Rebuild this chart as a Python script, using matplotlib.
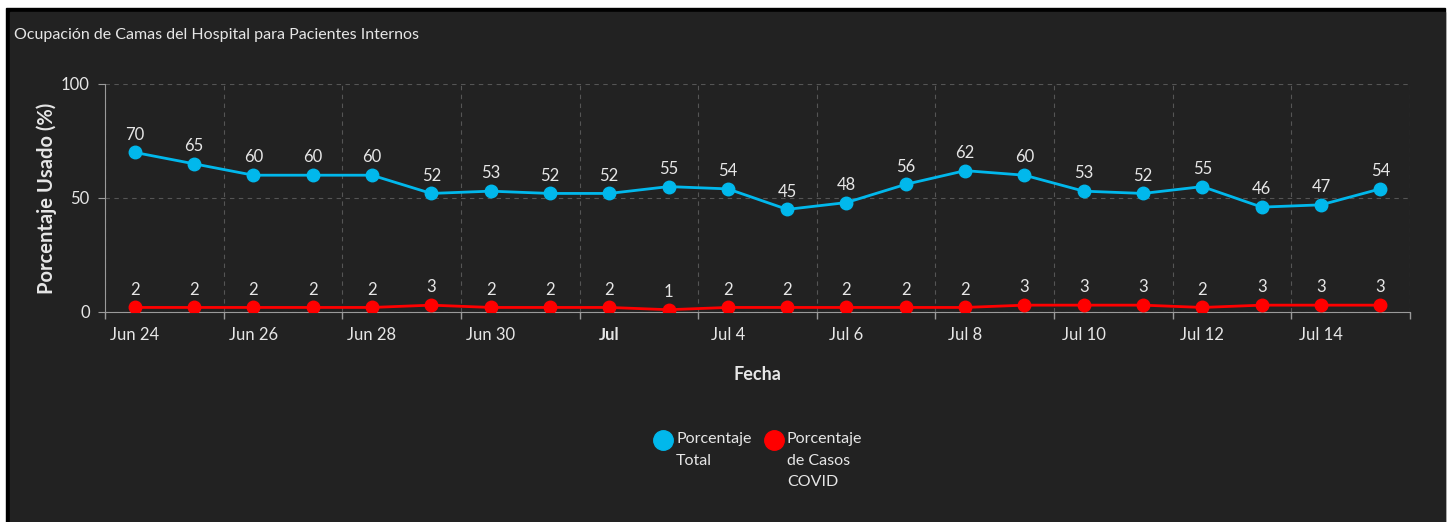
import datetime as dt
import matplotlib.pyplot as plt
import matplotlib.dates as mdates
from matplotlib.patches import Rectangle

plt.rcParams['font.family'] = ['Lato', 'DejaVu Sans']

start = dt.datetime(2020, 6, 24)
fechas = [start + dt.timedelta(days=i) for i in range(22)]
total = [70, 65, 60, 60, 60, 52, 53, 52, 52, 55, 54, 45, 48, 56, 62, 60,
         53, 52, 55, 46, 47, 54]
covid = [2, 2, 2, 2, 2, 3, 2, 2, 2, 1, 2, 2, 2, 2, 2, 3, 3, 3, 2, 3, 3, 3]
tick_labels = ["Jun 24", "Jun 26", "Jun 28", "Jun 30", "Jul", "Jul 4",
               "Jul 6", "Jul 8", "Jul 10", "Jul 12", "Jul 14"]
series_names = ["Porcentaje\nTotal", "Porcentaje\nde Casos\nCOVID"]

bg = '#222222'
txt = '#e6e6e6'
blue = '#01b8ec'
red = '#ff0000'

fig = plt.figure(figsize=(14.52, 5.22), dpi=100, facecolor='white')
W, H = 1452, 522
fig.patches.append(Rectangle((6 / W, 0), (1445 - 6) / W, (H - 8) / H,
                             transform=fig.transFigure, color='black',
                             zorder=-2))
fig.patches.append(Rectangle((10 / W, 0), (1445 - 10) / W, (H - 12) / H,
                             transform=fig.transFigure, color=bg, zorder=-1))

ax = fig.add_axes([105 / W, 1 - 312 / H, (1410 - 105) / W, (312 - 84) / H])
ax.set_zorder(2)
ax.patch.set_alpha(0)

ax.plot(fechas, total, color=blue, lw=2, marker='o', ms=9, zorder=3)
ax.plot(fechas, covid, color=red, lw=2, marker='o', ms=9, zorder=3)
for d, v in zip(fechas, total):
    ax.annotate(str(v), (d, v), xytext=(0, 7), textcoords='offset points',
                ha='center', va='bottom', color=txt, fontsize=12)
for d, v in zip(fechas, covid):
    ax.annotate(str(v), (d, v), xytext=(0, 7), textcoords='offset points',
                ha='center', va='bottom', color=txt, fontsize=12)

x0 = start - dt.timedelta(hours=12)
x1 = fechas[-1] + dt.timedelta(hours=12)
ax.set_xlim(x0, x1)
ax.set_ylim(0, 100)

# gridlines / ticks at half-day offsets, labels under the points
grid_pos = [x0 + dt.timedelta(days=2 * k) for k in range(12)]
ax.set_xticks(grid_pos)
ax.set_xticklabels([])
ax.tick_params(axis='x', length=5, color='#9a9a9a', width=1)
label_pos = [start + dt.timedelta(days=2 * k) for k in range(11)]
for p, lab in zip(label_pos, tick_labels):
    ax.annotate(lab, (mdates.date2num(p), 0), xytext=(0, -11),
                textcoords='offset points', ha='center', va='top', color=txt,
                fontsize=12, fontweight='bold' if lab == 'Jul' else 'normal',
                annotation_clip=False)

ax.set_yticks([0, 50, 100])
ax.tick_params(axis='y', length=5, color='#9a9a9a', labelcolor=txt,
               labelsize=12, pad=6)
ax.grid(True, color='#555555', ls=(0, (4, 4)), lw=0.8)
for s in ['top', 'right']:
    ax.spines[s].set_visible(False)
for s in ['left', 'bottom']:
    ax.spines[s].set_color('#9a9a9a')

ax.set_ylabel('Porcentaje Usado (%)', color=txt, fontsize=14.5,
              fontweight='bold')
ax.yaxis.set_label_coords(-0.037, 0.5)
fig.text(757 / W, 1 - 374 / H, 'Fecha', ha='center', va='center', color=txt,
         fontsize=13, fontweight='bold')

fig.text(14 / W, 1 - 35 / H,
         'Ocupación de Camas del Hospital para Pacientes Internos',
         ha='left', va='center', color=txt, fontsize=11.5)

# legend drawn by hand so the text is top aligned with the marker
leg_x = [663, 774]
for xm, col, name in zip(leg_x, [blue, red], series_names):
    fig.add_artist(plt.Line2D([xm / W], [1 - 440 / H], ls='none', marker='o',
                              ms=14, color=col, transform=fig.transFigure))
    fig.text((xm + 13) / W, 1 - 432 / H, name, ha='left', va='top',
             color=txt, fontsize=11.5, linespacing=1.7)

fig.savefig('out.png', dpi=100, facecolor='white')
